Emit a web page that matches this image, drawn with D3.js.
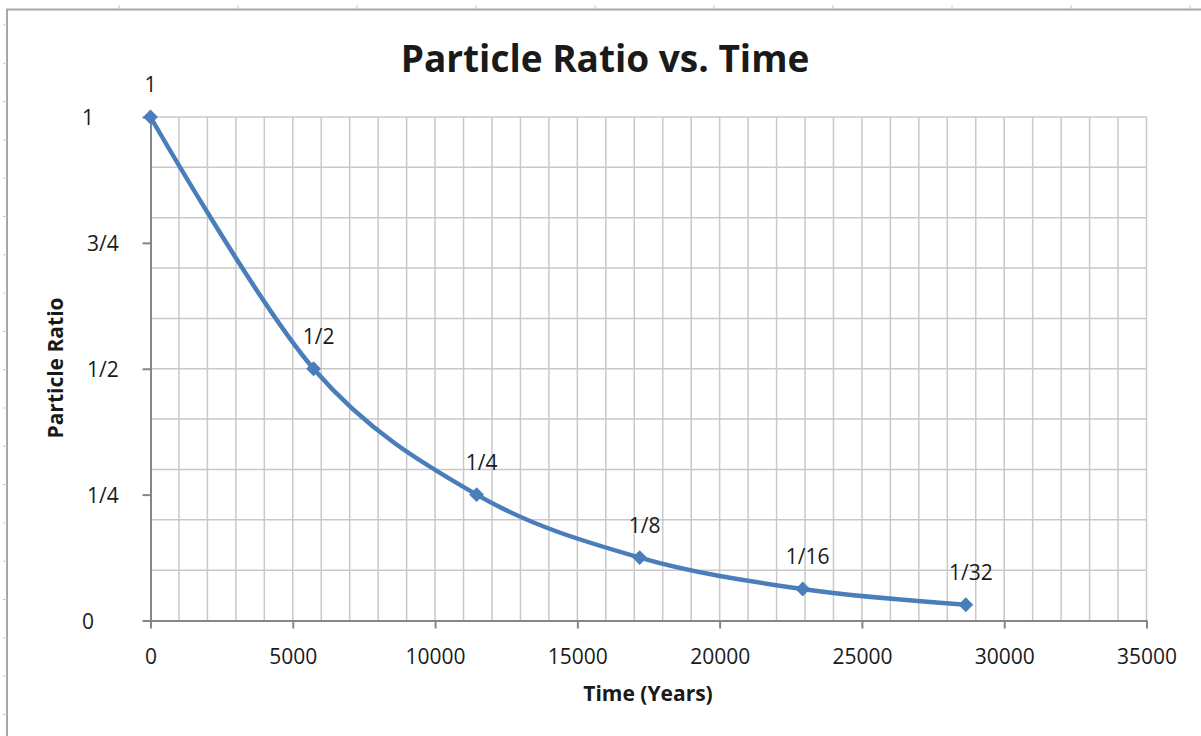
<!DOCTYPE html>
<html>
<head>
<meta charset="utf-8">
<script src="https://cdn.jsdelivr.net/npm/d3@7"></script>
<style>
  body { margin: 0; background: #fff; }
  svg text { font-family: 'Open Sans', 'Noto Sans', sans-serif; fill: #1a1a1a; }
</style>
</head>
<body>
<div id="chart"></div>
<script>
// data: carbon-14 style half-lives
const years = [0, 5730, 11460, 17190, 22920, 28650]
const ratios = [1, 1/2, 1/4, 1/8, 1/16, 1/32]
const pointLabels = ['1', '1/2', '1/4', '1/8', '1/16', '1/32']
const yTicks = [0, 0.25, 0.5, 0.75, 1]
const yTickLabels = ['0', '1/4', '1/2', '3/4', '1']
const xTicks = [0, 5000, 10000, 15000, 20000, 25000, 30000, 35000]

const size = {width: 1201, height: 736}
const plot = {left: 150.5, right: 1146.5, top: 117, bottom: 620.5}

const svg = d3.select('#chart').append('svg')
  .attr('width', size.width)
  .attr('height', size.height)

const x = d3.scaleLinear().domain([0, 35000]).range([plot.left, plot.right])
const y = d3.scaleLinear().domain([0, 1]).range([plot.bottom, plot.top])

// outer frame with the sheet ruler marks peeking through
const frame = svg.append('g')
frame.append('path')
  .attr('d', 'M7,736 V9.5 H1201')
  .attr('fill', 'none').attr('stroke', '#a6a6a6').attr('stroke-width', 2)
d3.range(119, 1201, 119).forEach(function(c){
  frame.append('line').attr('x1', c).attr('x2', c).attr('y1', 5).attr('y2', 9)
    .attr('stroke', '#c8c8c8')
})
d3.range(25, 736, 38.3).forEach(function(r){
  frame.append('line').attr('x1', 3).attr('x2', 7).attr('y1', r).attr('y2', r)
    .attr('stroke', '#c8c8c8')
})

// grid
const grid = svg.append('g').attr('stroke', '#c9c9c9').attr('stroke-width', 1.5)
grid.selectAll('line.v').data(d3.range(1000, 35001, 1000)).enter().append('line')
  .attr('x1', d => x(d)).attr('x2', d => x(d))
  .attr('y1', plot.top).attr('y2', plot.bottom)
grid.selectAll('line.h').data(d3.range(1, 11).map(d => d / 10)).enter().append('line')
  .attr('x1', plot.left).attr('x2', plot.right)
  .attr('y1', d => y(d)).attr('y2', d => y(d))

// axes
const xAxis = svg.append('g')
  .attr('transform', 'translate(0,' + plot.bottom + ')')
  .call(d3.axisBottom(x).tickValues(xTicks).tickSize(8).tickSizeOuter(0).tickFormat(d3.format('d')))
const yAxis = svg.append('g')
  .attr('transform', 'translate(' + plot.left + ',0)')
  .call(d3.axisLeft(y).tickValues(yTicks).tickSize(8).tickSizeOuter(0).tickFormat((d, i) => yTickLabels[i]))

svg.selectAll('.domain').attr('stroke', '#868686').attr('stroke-width', 2)
svg.selectAll('.tick line').attr('stroke', '#868686').attr('stroke-width', 2)
xAxis.selectAll('text')
  .style('font-size', '21px').attr('dy', 0).attr('y', 43)
yAxis.selectAll('text')
  .style('font-size', '21px').attr('text-anchor', 'start').attr('dy', '0.36em')
  .attr('x', (d, i) => yTickLabels[i].includes('/') ? -63.5 : -68.5)

// series
const pts = years.map((d, i) => ({x: d, y: ratios[i], label: pointLabels[i]}))
const line = d3.line().x(d => x(d.x)).y(d => y(d.y)).curve(d3.curveCardinal.tension(0))
svg.append('path')
  .datum(pts)
  .attr('d', line)
  .attr('fill', 'none')
  .attr('stroke', '#4a7ebb')
  .attr('stroke-width', 4.5)
  .attr('stroke-linejoin', 'round')

svg.selectAll('path.marker').data(pts).enter().append('path')
  .attr('class', 'marker')
  .attr('d', d3.symbol().type(d3.symbolDiamond2).size(140))
  .attr('transform', d => 'translate(' + x(d.x) + ',' + y(d.y) + ')')
  .attr('fill', '#4a7ebb')

svg.selectAll('text.plabel').data(pts).enter().append('text')
  .attr('class', 'plabel')
  .attr('x', d => x(d.x) + (d.label.includes('/') ? 5 : 0))
  .attr('y', d => y(d.y) - 25)
  .attr('text-anchor', 'middle')
  .style('font-size', '21px')
  .text(d => d.label)

// titles
svg.append('text')
  .attr('x', 605).attr('y', 72)
  .attr('text-anchor', 'middle')
  .style('font-size', '37px').style('font-weight', 'bold')
  .text('Particle Ratio vs. Time')

svg.append('text')
  .attr('x', 648).attr('y', 701)
  .attr('text-anchor', 'middle')
  .style('font-size', '21px').style('font-weight', 'bold')
  .text('Time (Years)')

svg.append('text')
  .attr('transform', 'translate(63,368) rotate(-90)')
  .attr('text-anchor', 'middle')
  .style('font-size', '21px').style('font-weight', 'bold')
  .text('Particle Ratio')
</script>
</body>
</html>
